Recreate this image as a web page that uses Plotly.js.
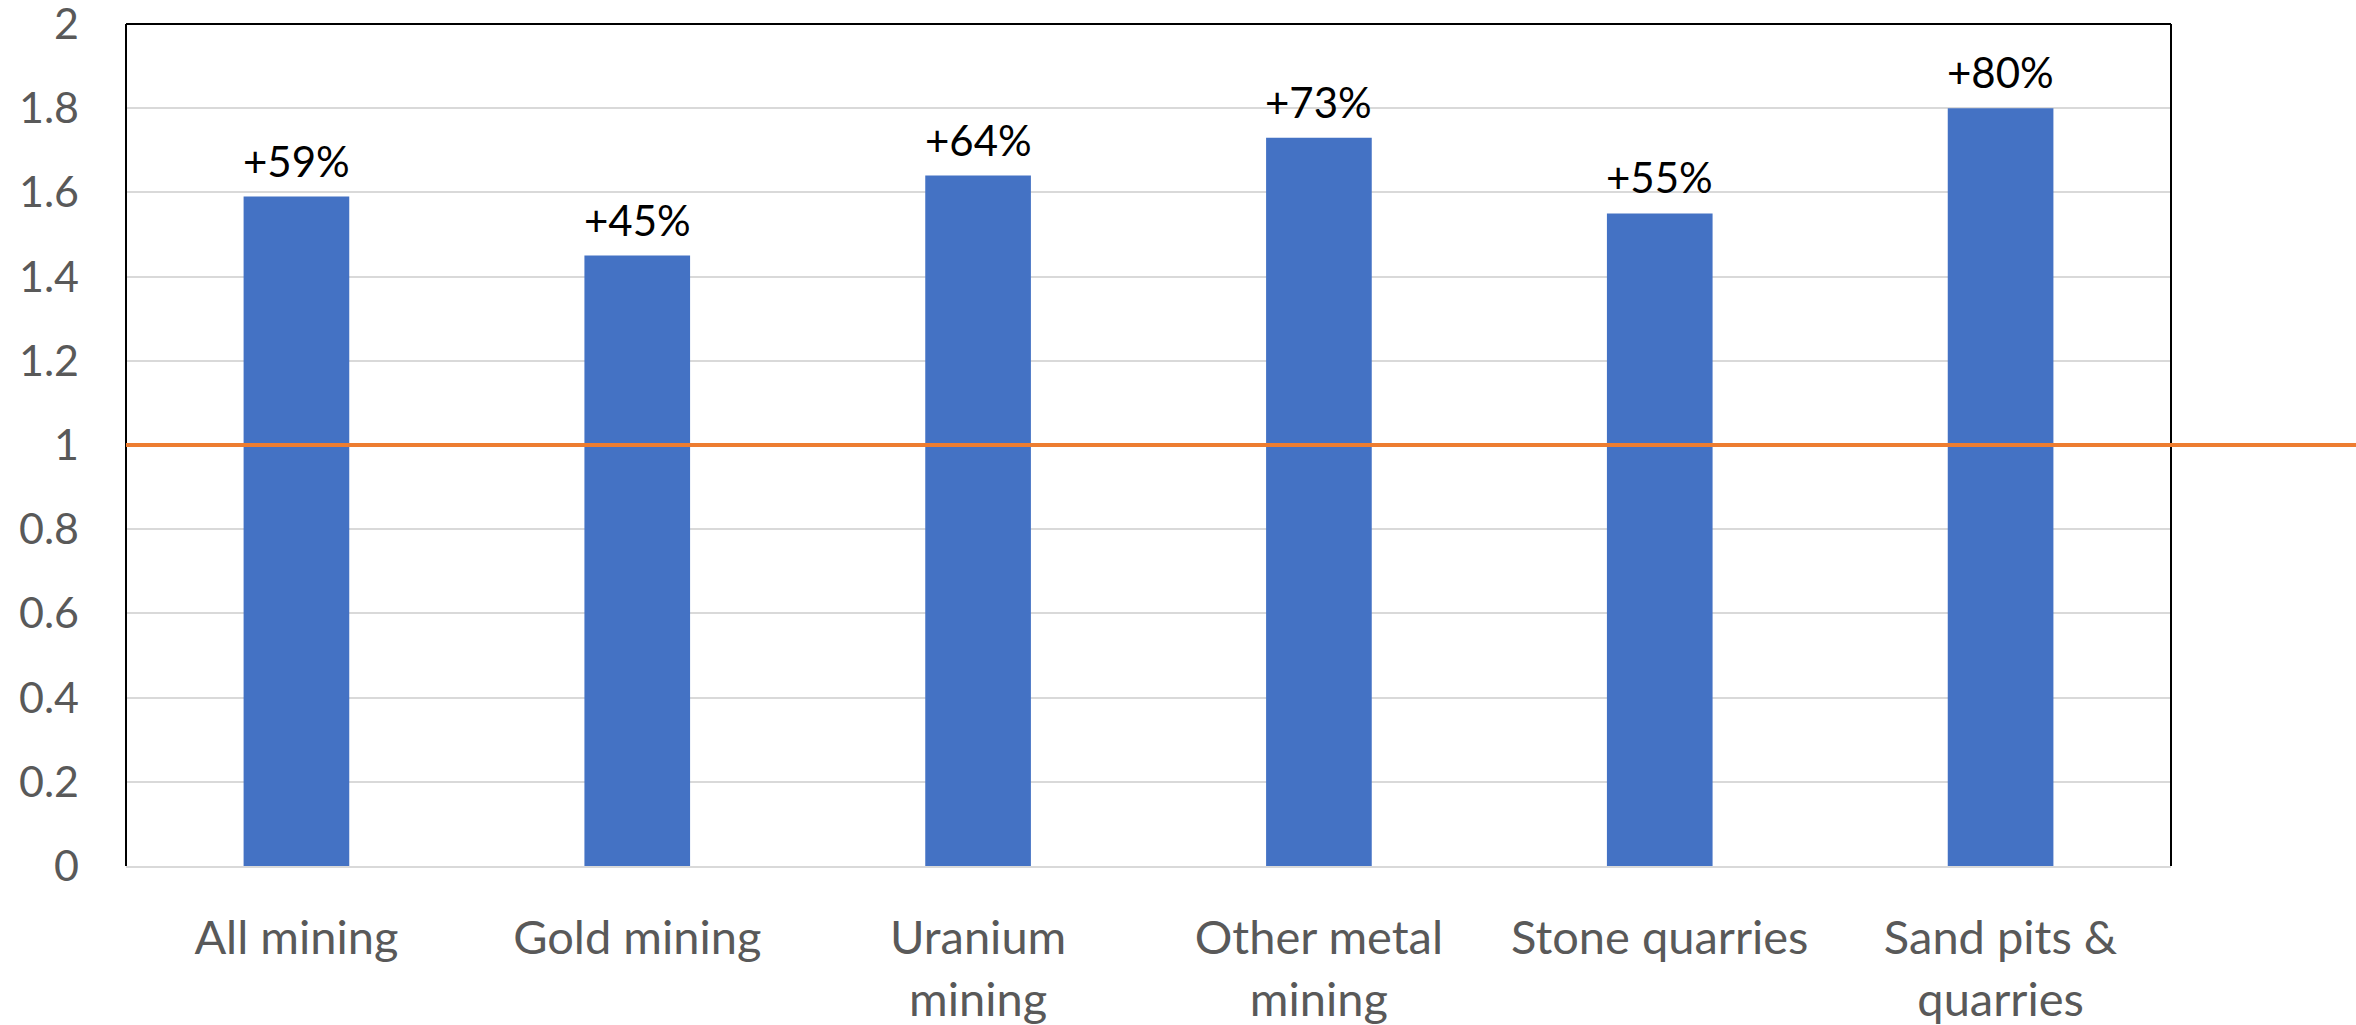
<!DOCTYPE html>
<html>
<head>
<meta charset="utf-8">
<script src="https://cdn.plot.ly/plotly-3.0.1.min.js"></script>
<style>
  html, body { margin: 0; padding: 0; background: #ffffff; }
  #chart { width: 2356px; height: 1025px; }
</style>
</head>
<body>
<div id="chart"></div>
<script>
// Ratio of current to baseline, by mining sector
const categories = [
  "All mining",
  "Gold mining",
  "Uranium<br>mining",
  "Other metal<br>mining",
  "Stone quarries",
  "Sand pits &<br>quarries"
];
const ratios = [1.59, 1.45, 1.64, 1.73, 1.55, 1.80];
const baseline = 1;
const yTicks = [0, 0.2, 0.4, 0.6, 0.8, 1, 1.2, 1.4, 1.6, 1.8, 2];
const yTickLabels = ["0", "0.2", "0.4", "0.6", "0.8", "1", "1.2", "1.4", "1.6", "1.8", "2"];

// Percentage change above baseline, shown over each bar
const changeLabels = ratios.map(v => "+" + Math.round((v - baseline) * 100) + "%");

const FONT = "Lato, 'Open Sans', sans-serif";

const bars = {
  type: "bar",
  x: categories,
  y: ratios,
  marker: { color: "#4472C4", line: { width: 0 } },
  hoverinfo: "x+y",
  showlegend: false
};

const annotations = categories.map((c, i) => ({
  x: c,
  y: ratios[i],
  xref: "x",
  yref: "y",
  text: changeLabels[i],
  showarrow: false,
  yanchor: "bottom",
  yshift: 9,
  font: { family: FONT, size: 42, color: "#000000" }
}));

const layout = {
  width: 2356,
  height: 1025,
  paper_bgcolor: "#ffffff",
  plot_bgcolor: "#ffffff",
  margin: { l: 126, r: 185, t: 24, b: 159, pad: 0 },
  bargap: 0.69,
  font: { family: FONT, color: "#595959" },
  xaxis: {
    type: "category",
    showgrid: false,
    showline: true,
    linecolor: "#d9d9d9",
    linewidth: 2,
    ticks: "",
    ticklabelstandoff: 30,
    tickfont: { family: FONT, size: 47, color: "#595959" },
    zeroline: false
  },
  yaxis: {
    range: [0, 2],
    tickvals: yTicks,
    ticktext: yTickLabels,
    ticklabeloverflow: "allow",
    showgrid: true,
    gridcolor: "#d9d9d9",
    gridwidth: 2,
    showline: false,
    zeroline: false,
    ticks: "",
    ticklabelstandoff: 46,
    tickfont: { family: FONT, size: 43, color: "#595959" }
  },
  shapes: [
    // plot frame: left, top, right
    { type: "line", xref: "paper", yref: "paper", x0: 0, x1: 0, y0: 0, y1: 1,
      line: { color: "#000000", width: 2 } },
    { type: "line", xref: "paper", yref: "paper", x0: 0, x1: 1, y0: 1, y1: 1,
      line: { color: "#000000", width: 2 } },
    { type: "line", xref: "paper", yref: "paper", x0: 1, x1: 1, y0: 0, y1: 1,
      line: { color: "#000000", width: 2 } },
    // baseline reference line
    { type: "line", xref: "paper", yref: "y", x0: 0, x1: 1.1, y0: baseline, y1: baseline,
      layer: "above", line: { color: "#ED7D31", width: 4 } }
  ],
  annotations: annotations
};

Plotly.newPlot("chart", [bars], layout, { displayModeBar: false, staticPlot: true });
</script>
</body>
</html>
